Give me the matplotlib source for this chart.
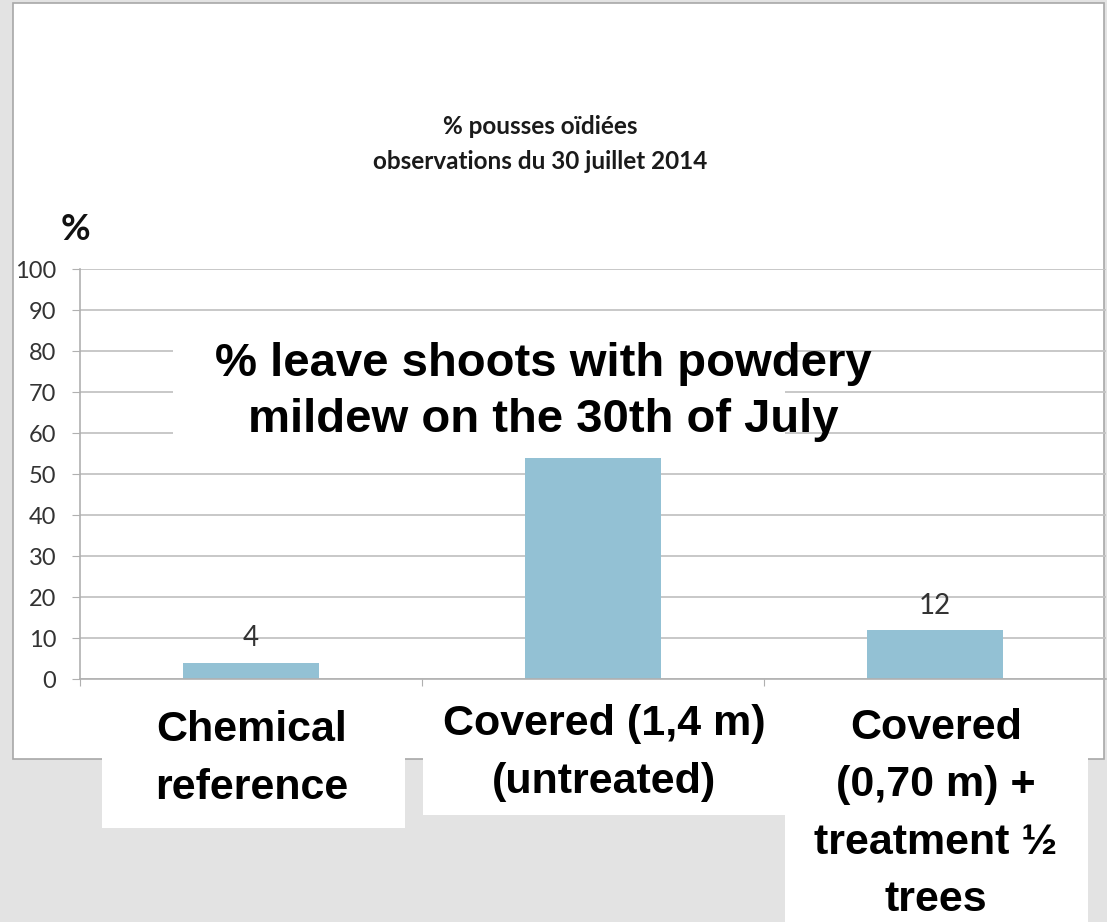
import matplotlib
matplotlib.use("Agg")
import matplotlib.pyplot as plt
from matplotlib.patches import Rectangle

# ---- data ----
categories = ["Chemical\nreference", "Covered (1,4 m)\n(untreated)",
              "Covered\n(0,70 m) +\ntreatment ½\ntrees"]
values = [4, 60, 12]
value_labels = ["4", "", "12"]   # middle label hidden under the overlay box
yticks = [0, 10, 20, 30, 40, 50, 60, 70, 80, 90, 100]
title_text = "% pousses oïdiées\nobservations du 30 juillet 2014"
overlay_text = "% leave shoots with powdery\nmildew on the 30th of July"

W, H = 1107, 922
fig = plt.figure(figsize=(W / 100, H / 100), dpi=100)
fig.patch.set_facecolor("#e3e3e3")


def px_rect(x0, y0, x1, y1, **kw):
    r = Rectangle((x0 / W, 1 - y1 / H), (x1 - x0) / W, (y1 - y0) / H,
                  transform=fig.transFigure, **kw)
    fig.add_artist(r)
    return r


def px_text(x, y, s, **kw):
    return fig.text(x / W, 1 - y / H, s, **kw)


# white chart panel
px_rect(13, 3, 1104, 759, facecolor="white", edgecolor="#a8a8a8",
        linewidth=1.2, zorder=-1)

# axes
ax = fig.add_axes([80 / W, (H - 679) / H, 1026 / W, 410 / H])
ax.set_facecolor("none")
xpos = list(range(len(values)))
ax.bar(xpos, values, width=0.4, color="#93c1d4", zorder=2)
ax.set_xlim(-0.5, 2.5)
ax.set_ylim(0, 100)
ax.set_yticks(yticks)
ax.set_yticklabels([str(t) for t in yticks], family="Lato", fontsize=17,
                   color="#333333")
ax.yaxis.grid(True, color="#c4c4c4", linewidth=1.3)
ax.set_axisbelow(True)
ax.set_xticks([-0.5, 0.5, 1.5])
ax.set_xticklabels([])
ax.tick_params(axis="y", length=6, color="#b0b0b0", pad=11)
ax.tick_params(axis="x", length=5, color="#b0b0b0")
for s in ["top", "right"]:
    ax.spines[s].set_visible(False)
ax.spines["left"].set_color("#b0b0b0")
ax.spines["bottom"].set_color("#b0b0b0")
ax.spines["left"].set_linewidth(1.2)
ax.spines["bottom"].set_linewidth(1.2)

for x, v, lab in zip(xpos, values, value_labels):
    if lab:
        ax.annotate(lab, (x, v), xytext=(0, 8), textcoords="offset points",
                    ha="center", va="bottom", family="Lato", fontsize=20,
                    color="#333333")

# chart title and unit
px_text(540, 144, title_text, ha="center", va="center", family="Lato",
        fontsize=17.5, fontweight="bold", color="#1a1a1a",
        linespacing=1.6)
px_text(75, 229, "%", ha="center", va="center", family="Lato",
        fontsize=26, fontweight="bold", color="#111111")

# overlay box with English title
px_rect(173, 318, 785, 458, facecolor="white", edgecolor="none", zorder=2)
px_text(543, 392, overlay_text, ha="center", va="center",
        family="Liberation Sans", fontweight="bold", fontsize=34,
        color="black", linespacing=1.34, zorder=3)

# category label boxes
boxes = [(102, 697, 405, 828), (423, 697, 785, 815), (785, 697, 1088, 922)]
centers = [(252, 759), (604, 753), (936, 814)]
for (x0, y0, x1, y1), (cx, cy), lab in zip(boxes, centers, categories):
    px_rect(x0, y0, x1, y1, facecolor="white", edgecolor="none", zorder=2)
    px_text(cx, cy, lab, ha="center", va="center", family="Liberation Sans",
            fontweight="bold", fontsize=31, color="black", linespacing=1.56,
            zorder=3)

fig.savefig("out.png", dpi=100)
